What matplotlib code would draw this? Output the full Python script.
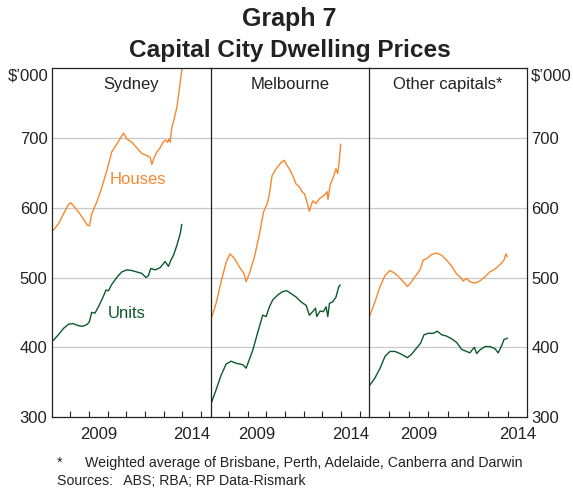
import matplotlib
matplotlib.use("Agg")
import matplotlib.pyplot as plt
import matplotlib.transforms as mtransforms

plt.rcParams['font.family'] = ['Liberation Sans', 'DejaVu Sans']

# dates in decimal years, prices in $'000
syd_houses_t = [2007.0, 2007.09, 2007.36, 2007.63, 2007.9, 2008.02, 2008.16, 2008.43, 2008.7, 2008.91,
                2009.02, 2009.14, 2009.41, 2009.68, 2009.95, 2010.21, 2010.48, 2010.75, 2010.84, 2011.02,
                2011.29, 2011.55, 2011.82, 2012.09, 2012.27, 2012.36, 2012.48, 2012.63, 2012.8, 2012.98,
                2013.1, 2013.2, 2013.27, 2013.34, 2013.43, 2013.55, 2013.7, 2013.82, 2013.96, 2014.02]
syd_houses = [566, 568, 577, 591, 605, 607, 603, 594, 584, 575,
              574, 591, 608, 629, 653, 680, 691, 703, 707, 699,
              694, 686, 678, 675, 672, 662, 672, 680, 686, 695,
              697, 694, 698, 694, 715, 727, 744, 768, 796, 810]

syd_units_t = [2007.0, 2007.09, 2007.36, 2007.63, 2007.9, 2008.13, 2008.43, 2008.66, 2008.91, 2009.02,
               2009.14, 2009.32, 2009.5, 2009.68, 2009.91, 2010.04, 2010.21, 2010.48, 2010.75, 2011.02,
               2011.29, 2011.55, 2011.82, 2012.05, 2012.18, 2012.3, 2012.54, 2012.8, 2013.07, 2013.25,
               2013.38, 2013.52, 2013.7, 2013.88, 2013.96]
syd_units = [408, 410, 418, 427, 433, 434, 431, 430, 433, 437,
             450, 449, 458, 468, 482, 481, 490, 500, 508, 511,
             510, 508, 506, 500, 503, 513, 511, 514, 523, 516,
             525, 532, 546, 563, 576]

mel_houses_t = [2007.0, 2007.04, 2007.3, 2007.57, 2007.84, 2008.05, 2008.29, 2008.55, 2008.79, 2008.91,
                2009.09, 2009.36, 2009.63, 2009.84, 2010.04, 2010.16, 2010.3, 2010.52, 2010.79, 2010.96,
                2011.09, 2011.23, 2011.41, 2011.59, 2011.77, 2011.91, 2012.04, 2012.16, 2012.3, 2012.48,
                2012.66, 2012.84, 2013.11, 2013.25, 2013.3, 2013.43, 2013.55, 2013.73, 2013.82, 2013.91,
                2013.98]
mel_houses = [439, 441, 463, 494, 522, 534, 527, 515, 506, 494,
              506, 530, 563, 594, 606, 620, 646, 656, 665, 668,
              661, 656, 646, 634, 630, 623, 620, 610, 595, 610,
              606, 613, 618, 623, 612, 634, 641, 656, 649, 668,
              691]

mel_units_t = [2007.0, 2007.04, 2007.3, 2007.57, 2007.84, 2008.11, 2008.38, 2008.73, 2008.91, 2009.05,
               2009.27, 2009.54, 2009.8, 2009.98, 2010.16, 2010.34, 2010.61, 2010.88, 2011.09, 2011.32,
               2011.59, 2011.86, 2012.13, 2012.3, 2012.48, 2012.63, 2012.7, 2012.88, 2013.05, 2013.2,
               2013.29, 2013.38, 2013.55, 2013.73, 2013.88, 2013.95]
mel_units = [318, 320, 339, 360, 376, 380, 377, 375, 370, 380,
             396, 422, 446, 444, 458, 468, 475, 480, 481, 477,
             472, 465, 460, 446, 451, 456, 444, 452, 451, 458,
             444, 463, 465, 472, 487, 489]

oth_houses_t = [2007.0, 2007.05, 2007.3, 2007.56, 2007.81, 2008.06, 2008.31, 2008.57, 2008.82, 2008.94,
                2009.07, 2009.32, 2009.58, 2009.74, 2009.91, 2010.16, 2010.42, 2010.67, 2010.92, 2011.18,
                2011.43, 2011.6, 2011.76, 2011.93, 2012.1, 2012.35, 2012.6, 2012.86, 2013.11, 2013.36,
                2013.53, 2013.7, 2013.82, 2013.92, 2013.99]
oth_houses = [444, 446, 465, 487, 503, 510, 506, 499, 491, 487,
              491, 501, 511, 525, 527, 533, 535, 532, 525, 516,
              505, 501, 495, 499, 494, 492, 495, 501, 508, 512,
              516, 521, 525, 534, 530]

oth_units_t = [2007.0, 2007.05, 2007.3, 2007.56, 2007.81, 2008.06, 2008.31, 2008.57, 2008.82, 2008.94,
               2009.15, 2009.41, 2009.61, 2009.78, 2010.0, 2010.25, 2010.45, 2010.67, 2010.92, 2011.18,
               2011.43, 2011.68, 2011.93, 2012.1, 2012.32, 2012.44, 2012.6, 2012.86, 2013.11, 2013.36,
               2013.53, 2013.7, 2013.82, 2013.99]
oth_units = [344, 346, 356, 370, 387, 394, 394, 391, 387, 385,
             390, 399, 406, 418, 420, 420, 423, 418, 416, 412,
             407, 397, 394, 392, 400, 391, 396, 401, 401, 398,
             392, 402, 411, 413]

panels = ['Sydney', 'Melbourne', 'Other capitals*']
xlims = [(2007, 2015.5), (2007, 2015.5), (2007, 2015)]
year_labels = [2009, 2014]
y_ticks = [300, 400, 500, 600, 700]
y_grid = [400, 500, 600, 700]

orange = '#f7882f'
green = '#0b5a2a'
grid_c = '#c9c9c9'
spine_c = '#222222'
text_c = '#222222'

fig = plt.figure(figsize=(5.73, 4.95), dpi=100)

# panel edges in pixels
edges = [51.7, 210.5, 369.0, 527.3]
bottom = 78 / 495
h = 348.7 / 495

series = [(syd_houses_t, syd_houses, syd_units_t, syd_units),
          (mel_houses_t, mel_houses, mel_units_t, mel_units),
          (oth_houses_t, oth_houses, oth_units_t, oth_units)]

axes = []
for i in range(3):
    ax = fig.add_axes([edges[i] / 573, bottom, (edges[i + 1] - edges[i]) / 573, h])
    axes.append(ax)
    ht, hv, ut, uv = series[i]
    ax.plot(ht, hv, color=orange, lw=1.0, solid_joinstyle='round')
    ax.plot(ut, uv, color=green, lw=1.0, solid_joinstyle='round')
    ax.set_xlim(*xlims[i])
    ax.set_ylim(300, 800)
    for g in y_grid:
        ax.axhline(g, color=grid_c, lw=0.9, zorder=0)
    for s in ax.spines.values():
        s.set_color(spine_c)
        s.set_linewidth(0.9)
    if i < 2:
        ax.spines['right'].set_visible(False)
    # year boundaries as small inward ticks, labels in the middle of each year
    lo, hi = xlims[i]
    ax.set_xticks([y for y in range(2008, 2016) if lo < y < hi])
    ax.set_xticklabels([])
    ax.set_xticks([y + 0.5 for y in year_labels], minor=True)
    ax.set_xticklabels([str(y) for y in year_labels], minor=True, fontsize=12, color=text_c)
    ax.tick_params(axis='x', which='major', direction='in', length=4, width=0.8, color=spine_c)
    ax.tick_params(axis='x', which='minor', length=0, pad=7)
    ax.set_yticks(y_ticks)
    ax.tick_params(axis='y', length=0, labelsize=12, labelcolor=text_c, pad=3)
    if i == 1:
        ax.set_yticklabels([])
    ax.text(0.5, 0.953, panels[i], transform=ax.transAxes, ha='center', va='center',
            fontsize=12, color=text_c)

axes[2].tick_params(axis='y', labelleft=False, labelright=True)

# unit labels at the top of the outer axes
t0 = mtransforms.blended_transform_factory(axes[0].transAxes, axes[0].transData)
axes[0].text(-0.022, 800, '$\u2019000', transform=t0, ha='right', va='top', fontsize=12,
             color=text_c)
t2 = mtransforms.blended_transform_factory(axes[2].transAxes, axes[2].transData)
axes[2].text(1.022, 800, '$\u2019000', transform=t2, ha='left', va='top', fontsize=12,
             color=text_c)

axes[0].text(2011.62, 640, 'Houses', color=orange, fontsize=12, ha='center', va='center')
axes[0].text(2011.03, 449, 'Units', color=green, fontsize=12, ha='center', va='center')

fig.text(289.5 / 573, 1 - 19 / 495, 'Graph 7', ha='center', va='center', fontsize=18,
         fontweight='bold', color=text_c)
fig.text(289.5 / 573, 1 - 50 / 495, 'Capital City Dwelling Prices', ha='center', va='center',
         fontsize=17.6, fontweight='bold', color=text_c)

fig.text(57 / 573, 1 - 463 / 495, '*', ha='left', va='center', fontsize=10.2, color=text_c)
fig.text(85 / 573, 1 - 463 / 495, 'Weighted average of Brisbane, Perth, Adelaide, Canberra and Darwin',
         ha='left', va='center', fontsize=10.2, color=text_c)
fig.text(57 / 573, 1 - 481 / 495, 'Sources:\u2002 ABS; RBA; RP Data-Rismark', ha='left', va='center',
         fontsize=10.2, color=text_c)

fig.savefig('out.png', dpi=100)
